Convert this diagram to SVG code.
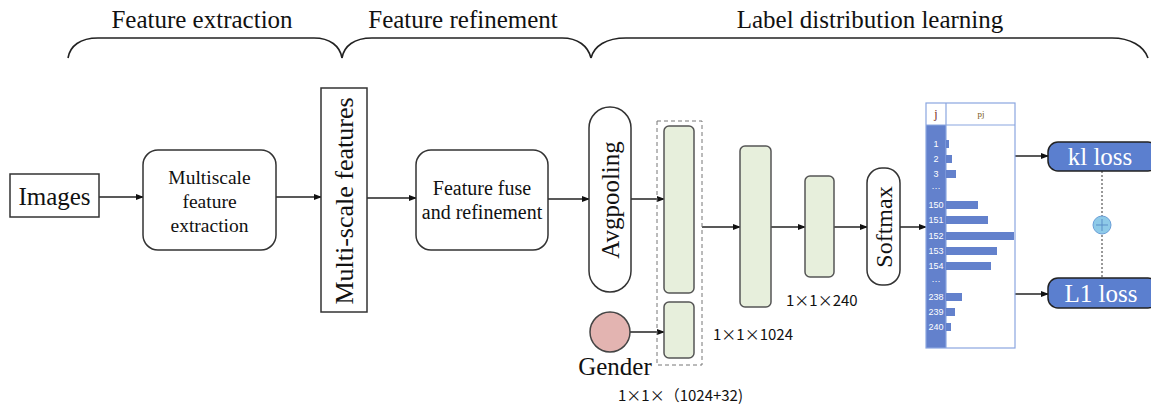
<svg xmlns="http://www.w3.org/2000/svg" width="1151" height="411" viewBox="0 0 1151 411">
<defs>
<marker id="arr" markerWidth="8" markerHeight="6" refX="7" refY="3" orient="auto" markerUnits="userSpaceOnUse">
<path d="M0,0 L8,3 L0,6 Z" fill="#111"/>
</marker>
<style>
.ser{font-family:"Liberation Serif","Times New Roman",serif;fill:#111}
.cjk{font-family:"Noto Sans CJK SC","Liberation Sans",sans-serif;fill:#111;font-size:15px}
.box{fill:#fff;stroke:#333;stroke-width:1.5}
.grn{fill:#e7efdc;stroke:#555;stroke-width:1.5}
.conn{stroke:#222;stroke-width:1.5;fill:none;marker-end:url(#arr)}
.brace{stroke:#222;stroke-width:1.6;fill:none}
.bar{fill:#6381cc}
.lbl{font-family:"Liberation Sans",Arial,sans-serif;font-size:9px;fill:#fff;text-anchor:middle}
.loss{fill:#5b7fcf;stroke:#222;stroke-width:1.5}
.losst{font-family:"Liberation Serif","Times New Roman",serif;font-size:25px;fill:#fff;text-anchor:middle}
</style>
</defs>
<rect width="1151" height="411" fill="#fff"/>

<g id="braces">
<path class="brace" d="M68,58 C70,46 80,38 98,38 L314,38 C330,38 340,46 342,58"/>
<path class="brace" d="M342,58 C344,46 354,38 372,38 L562,38 C578,38 588,46 591,58"/>
<path class="brace" d="M591,58 C594,46 606,38 626,38 L1112,38 C1130,38 1144,46 1148,58"/>
<text class="ser" x="202" y="28" font-size="25" text-anchor="middle">Feature extraction</text>
<text class="ser" x="463" y="28" font-size="25" text-anchor="middle">Feature refinement</text>
<text class="ser" x="870" y="28" font-size="25" text-anchor="middle">Label distribution learning</text>
</g>

<g id="connectors">
<line class="conn" x1="99" y1="197" x2="143" y2="197"/>
<line class="conn" x1="276" y1="197" x2="321" y2="197"/>
<line class="conn" x1="367" y1="198" x2="416" y2="198"/>
<line class="conn" x1="548" y1="199" x2="589" y2="199"/>
<line class="conn" x1="631" y1="199" x2="664" y2="199"/>
<line class="conn" x1="630" y1="332" x2="664" y2="332"/>
<line class="conn" x1="702" y1="227" x2="740" y2="227"/>
<line class="conn" x1="771" y1="227" x2="805" y2="227"/>
<line class="conn" x1="834" y1="227" x2="867" y2="227"/>
<line class="conn" x1="900" y1="227" x2="926" y2="227"/>
<line class="conn" x1="1015" y1="156" x2="1048" y2="156"/>
<line class="conn" x1="1015" y1="294" x2="1048" y2="294"/>
<line x1="1102" y1="171" x2="1102" y2="278" stroke="#333" stroke-width="1" stroke-dasharray="2,2"/>
</g>

<g id="images">
<rect class="box" x="10" y="174" width="89" height="43"/>
<text class="ser" x="54.5" y="205" font-size="25" text-anchor="middle">Images</text>
</g>

<g id="multiscale-extraction">
<rect class="box" x="143" y="150" width="133" height="100" rx="15"/>
<text class="ser" font-size="19.5" text-anchor="middle"><tspan x="209.5" y="184">Multiscale</tspan><tspan x="209.5" y="208">feature</tspan><tspan x="209.5" y="232">extraction</tspan></text>
</g>

<g id="multiscale-features">
<rect class="box" x="321" y="88" width="46" height="224"/>
<text class="ser" font-size="26" text-anchor="middle" transform="translate(353,201) rotate(-90)">Multi-scale features</text>
</g>

<g id="feature-fuse">
<rect class="box" x="416" y="150" width="132" height="100" rx="15"/>
<text class="ser" font-size="20" text-anchor="middle"><tspan x="482" y="195">Feature fuse</tspan><tspan x="482" y="219">and refinement</tspan></text>
</g>

<g id="avgpooling">
<rect class="box" x="589" y="107" width="42" height="185" rx="21"/>
<text class="ser" font-size="25" text-anchor="middle" transform="translate(619,200) rotate(-90)">Avgpooling</text>
</g>

<g id="concat">
<rect x="657" y="121" width="45" height="244" fill="none" stroke="#777" stroke-width="1" stroke-dasharray="4,3"/>
<rect class="grn" x="664" y="126" width="30" height="167" rx="5"/>
<rect class="grn" x="664" y="302" width="30" height="56" rx="5"/>
<text class="cjk" x="618" y="401">1×1×（1024+32)</text>
</g>

<g id="gender">
<circle cx="610" cy="332" r="20" fill="#e3b4b1" stroke="#444" stroke-width="1.5"/>
<text class="ser" x="615" y="375" font-size="25" text-anchor="middle">Gender</text>
</g>

<g id="fc1024">
<rect class="grn" x="740" y="146" width="31" height="161" rx="5"/>
<text class="cjk" x="713" y="340">1×1×1024</text>
</g>

<g id="fc240">
<rect class="grn" x="805" y="176" width="29" height="101" rx="5"/>
<text class="cjk" x="786" y="306">1×1×240</text>
</g>

<g id="softmax">
<rect class="box" x="867" y="168" width="33" height="117" rx="15"/>
<text class="ser" font-size="24" text-anchor="middle" transform="translate(892,227) rotate(-90)">Softmax</text>
</g>

<g id="distribution-table">
<rect x="926" y="125" width="20" height="223" fill="#6381cc"/>
<rect x="926" y="103" width="89" height="245" fill="none" stroke="#8aa6e0" stroke-width="1.2"/>
<line x1="946" y1="103" x2="946" y2="348" stroke="#8aa6e0" stroke-width="1.2"/>
<line x1="926" y1="125" x2="1015" y2="125" stroke="#8aa6e0" stroke-width="1.2"/>
<text x="936" y="118" font-family="Liberation Serif,serif" font-size="12" fill="#7a2a1a" text-anchor="middle">j</text>
<text x="981" y="117" font-family="Liberation Serif,serif" font-size="9" fill="#7a5a1a" text-anchor="middle">pj</text>
<rect class="bar" x="946" y="140" width="3" height="8"/>
<rect class="bar" x="946" y="155" width="6" height="8"/>
<rect class="bar" x="946" y="170" width="10" height="8"/>
<rect class="bar" x="946" y="201" width="32" height="8"/>
<rect class="bar" x="946" y="216" width="42" height="8"/>
<rect class="bar" x="946" y="232" width="68" height="8"/>
<rect class="bar" x="946" y="247" width="51" height="8"/>
<rect class="bar" x="946" y="262" width="45" height="8"/>
<rect class="bar" x="946" y="293" width="16" height="8"/>
<rect class="bar" x="946" y="308" width="9" height="8"/>
<rect class="bar" x="946" y="323" width="5" height="8"/>
<text class="lbl" x="936" y="147">1</text>
<text class="lbl" x="936" y="162">2</text>
<text class="lbl" x="936" y="177">3</text>
<text class="lbl" x="936" y="191">···</text>
<text class="lbl" x="936" y="208">150</text>
<text class="lbl" x="936" y="223">151</text>
<text class="lbl" x="936" y="239">152</text>
<text class="lbl" x="936" y="254">153</text>
<text class="lbl" x="936" y="269">154</text>
<text class="lbl" x="936" y="284">···</text>
<text class="lbl" x="936" y="300">238</text>
<text class="lbl" x="936" y="315">239</text>
<text class="lbl" x="936" y="330">240</text>
</g>

<g id="kl-loss">
<rect class="loss" x="1048" y="142" width="110" height="29" rx="10"/>
<text class="losst" x="1100" y="165">kl loss</text>
</g>

<g id="l1-loss">
<rect class="loss" x="1048" y="278" width="110" height="30" rx="10"/>
<text class="losst" x="1101" y="302">L1 loss</text>
</g>

<g id="sum">
<circle cx="1102" cy="225" r="9" fill="#8ecae8" stroke="#6a9fd8" stroke-width="1"/>
<line x1="1096" y1="225" x2="1108" y2="225" stroke="#5a8fc8" stroke-width="1"/>
<line x1="1102" y1="219" x2="1102" y2="231" stroke="#5a8fc8" stroke-width="1"/>
</g>
</svg>
